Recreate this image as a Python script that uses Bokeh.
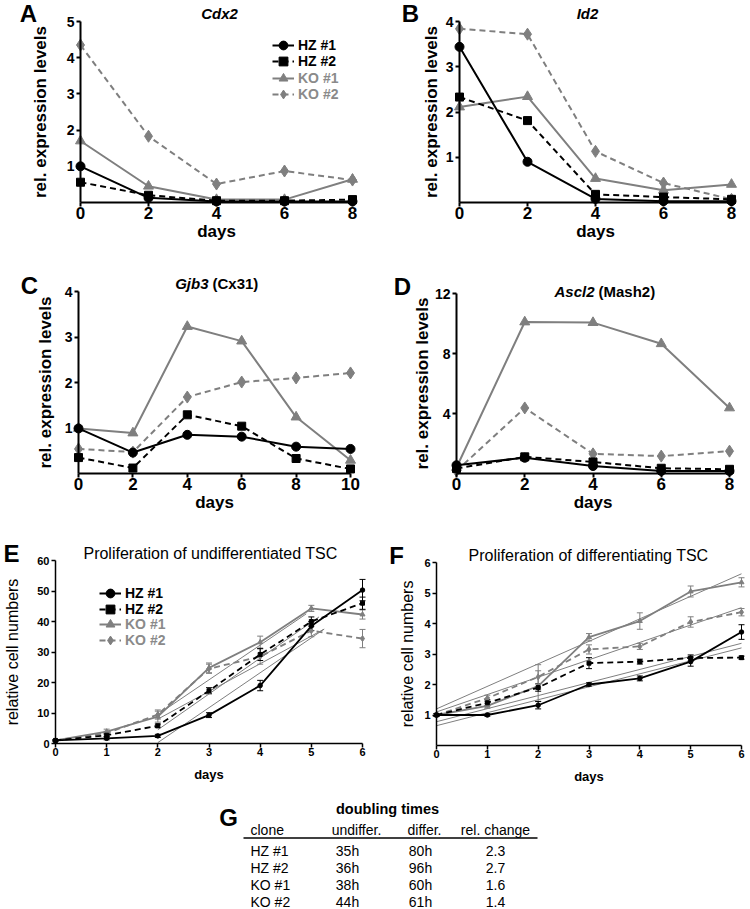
from bokeh.plotting import figure
from bokeh.layouts import row, column
from bokeh.models import (Range1d, FixedTicker, Legend, LegendItem, Label,
                          Whisker, TeeHead, ColumnDataSource)
from bokeh.core.properties import value
from bokeh.embed import file_html
from bokeh.resources import INLINE

FONT = "Liberation Sans"
BLACK = "#000000"
GRAY = "#7f7f7f"
GRAY_TXT = "#8a8a8a"

clones = ["HZ #1", "HZ #2", "KO #1", "KO #2"]

# ---------------- expression data (A-D) ----------------
cdx2_days = [0, 2, 4, 6, 8]
cdx2_hz1 = [1.00, 0.13, 0.03, 0.03, 0.03]
cdx2_hz2 = [0.56, 0.20, 0.05, 0.05, 0.08]
cdx2_ko1 = [1.70, 0.45, 0.08, 0.08, 0.64]
cdx2_ko2 = [4.35, 1.83, 0.51, 0.87, 0.62]

id2_days = [0, 2, 4, 6, 8]
id2_hz1 = [3.44, 0.90, 0.08, 0.03, 0.03]
id2_hz2 = [2.33, 1.81, 0.18, 0.12, 0.07]
id2_ko1 = [2.11, 2.34, 0.53, 0.27, 0.40]
id2_ko2 = [3.84, 3.72, 1.13, 0.43, 0.07]

gjb3_days = [0, 2, 4, 6, 8, 10]
gjb3_hz1 = [0.99, 0.46, 0.85, 0.81, 0.59, 0.54]
gjb3_hz2 = [0.35, 0.12, 1.29, 1.04, 0.33, 0.10]
gjb3_ko1 = [0.99, 0.89, 3.23, 2.91, 1.24, 0.29]
gjb3_ko2 = [0.54, 0.47, 1.68, 2.01, 2.10, 2.21]

ascl2_days = [0, 2, 4, 6, 8]
ascl2_hz1 = [0.55, 1.05, 0.50, 0.17, 0.17]
ascl2_hz2 = [0.33, 1.11, 0.77, 0.35, 0.28]
ascl2_ko1 = [0.40, 10.10, 10.06, 8.65, 4.37]
ascl2_ko2 = [0.17, 4.37, 1.31, 1.16, 1.49]

# ---------------- proliferation data (E, F) ----------------
prolif_days = [0, 1, 2, 3, 4, 5, 6]
undiff_hz1 = [1.0, 1.7, 2.5, 9.3, 19.0, 38.5, 50.3]
undiff_hz1_err = [0.2, 0.5, 0.5, 0.8, 1.7, 1.5, 3.5]
undiff_hz2 = [1.0, 2.7, 5.8, 17.3, 29.2, 40.0, 46.0]
undiff_hz2_err = [0.2, 0.5, 0.6, 1.0, 2.0, 1.5, 2.0]
undiff_ko1 = [1.0, 3.9, 8.8, 24.8, 33.2, 44.3, 42.3]
undiff_ko1_err = [0.2, 0.8, 1.8, 1.6, 2.0, 1.0, 1.5]
undiff_ko2 = [1.0, 3.4, 9.5, 24.5, 28.5, 37.0, 34.4]
undiff_ko2_err = [0.2, 0.6, 1.5, 1.5, 2.5, 2.0, 3.0]
undiff_fit_x0 = [2.0, 2.0, 2.0, 2.0]
undiff_fit_y0 = [0.3, 4.5, 8.0, 9.5]
undiff_fit_x1 = [5.25, 5.15, 5.25, 4.9]
undiff_fit_y1 = [37.5, 41.5, 37.5, 42.5]

diff_hz1 = [1.0, 1.0, 1.32, 2.0, 2.2, 2.75, 3.72]
diff_hz1_err = [0.04, 0.04, 0.12, 0.06, 0.08, 0.15, 0.24]
diff_hz2 = [1.0, 1.4, 1.9, 2.7, 2.75, 2.87, 2.88]
diff_hz2_err = [0.04, 0.1, 0.12, 0.18, 0.08, 0.1, 0.05]
diff_ko1 = [1.0, 1.3, 1.95, 3.55, 4.08, 5.05, 5.35]
diff_ko1_err = [0.04, 0.08, 0.5, 0.12, 0.27, 0.18, 0.15]
diff_ko2 = [1.0, 1.55, 2.25, 3.15, 3.25, 4.05, 4.37]
diff_ko2_err = [0.04, 0.1, 0.4, 0.15, 0.1, 0.17, 0.12]
diff_fit_x0 = [0, 0, 0, 0]
diff_fit_y0 = [1.2, 1.1, 0.78, 0.65]
diff_fit_x1 = [6, 6, 6, 6]
diff_fit_y1 = [5.63, 4.52, 3.35, 3.2]

# ---------------- doubling time table (G) ----------------
table_headers = ["clone", "undiffer.", "differ.", "rel. change"]
table_clone = ["HZ #1", "HZ #2", "KO #1", "KO #2"]
table_undiff = ["35h", "36h", "38h", "44h"]
table_diff = ["80h", "96h", "60h", "61h"]
table_rel = ["2.3", "2.7", "1.6", "1.4"]

STYLE = {
    "HZ #1": dict(color=BLACK, dash="solid", marker="circle", size=9),
    "HZ #2": dict(color=BLACK, dash="6 4", marker="square", size=8),
    "KO #1": dict(color=GRAY, dash="solid", marker="triangle", size=10),
    "KO #2": dict(color=GRAY, dash="6 4", marker="diamond", size=12),
}
LEGEND_TXT = {"HZ #1": BLACK, "HZ #2": BLACK, "KO #1": GRAY_TXT, "KO #2": GRAY_TXT}


def make_panel(fig_left, fig_top, fig_w, fig_h, ax, xmax, ymax):
    """Frame covers the whole figure; axes are fixed at data 0."""
    x0, x1, yt, yb = ax
    ux = xmax / (x1 - x0)
    uy = ymax / (yb - yt)
    X = lambda px: (px - x0) * ux
    Y = lambda py: (yb - py) * uy
    p = figure(width=fig_w, height=fig_h,
               x_range=Range1d(X(fig_left), X(fig_left + fig_w)),
               y_range=Range1d(Y(fig_top + fig_h), Y(fig_top)),
               min_border=0, min_border_left=0, min_border_right=0,
               min_border_top=0, min_border_bottom=0,
               output_backend="svg", toolbar_location=None, tools="")
    p.outline_line_color = None
    p.grid.visible = False
    geo = dict(X=X, Y=Y, left=fig_left, bottom=fig_top + fig_h)
    return p, geo


def style_axes(p, xmax, ymax, xticks, yticks, ylabel, xlab_size, xtick_size,
               ytick_size, ylab_size, ylab_style, lw, ylab_standoff, xlab_standoff):
    for a in (p.xaxis[0], p.yaxis[0]):
        a.fixed_location = 0
        a.axis_line_width = lw
        a.major_tick_line_width = lw
        a.major_tick_out = 4
        a.major_tick_in = 0
        a.minor_tick_out = 0
        a.minor_tick_in = 0
        a.major_label_text_font = FONT
        a.major_label_text_font_style = "bold"
        a.axis_label_text_font = FONT
        a.major_label_text_color = BLACK
        a.axis_label_text_color = BLACK
    p.xaxis.bounds = (0, xmax)
    p.yaxis.bounds = (0, ymax)
    p.xaxis.ticker = FixedTicker(ticks=xticks)
    p.yaxis.ticker = FixedTicker(ticks=yticks)
    p.xaxis.axis_label = "days"
    p.xaxis.axis_label_text_font_style = "bold"
    p.xaxis.axis_label_text_font_size = xlab_size
    p.xaxis.major_label_text_font_size = xtick_size
    p.xaxis.major_label_standoff = 0
    p.xaxis.axis_label_standoff = xlab_standoff
    p.yaxis.axis_label = ylabel
    p.yaxis.axis_label_text_font_style = ylab_style
    p.yaxis.axis_label_text_font_size = ylab_size
    p.yaxis.major_label_text_font_size = ytick_size
    p.yaxis.major_label_standoff = 2
    p.yaxis.axis_label_standoff = ylab_standoff


def add_label(p, x, y, text, size, style="bold", align="center", color=BLACK):
    p.add_layout(Label(x=x, y=y, text=text, text_font=FONT, text_font_size=size,
                       text_font_style=style, text_align=align,
                       text_baseline="middle", text_color=color))


def draw_expr(p, days, data, lw=2):
    for name in ["KO #2", "KO #1", "HZ #2", "HZ #1"]:
        st = STYLE[name]
        p.line(days, data[name], line_color=st["color"], line_width=lw,
               line_dash=st["dash"])
        p.scatter(days, data[name], marker=st["marker"], size=st["size"],
                  fill_color=st["color"], line_color=st["color"])


def add_legends(p, geo, glyph_left, row_centers, fsize, lw=2):
    """One single-item legend per clone, so key markers can be large while rows stay tight."""
    nan = float("nan")
    for n, cy in zip(clones, row_centers):
        st = STYLE[n]
        l = p.line([nan], [nan], line_color=st["color"], line_width=lw,
                   line_dash=st["dash"])
        s = p.scatter([nan], [nan], marker=st["marker"], size=st["size"],
                      fill_color=st["color"], line_color=st["color"])
        gh = 24
        lg = Legend(items=[LegendItem(label=value(n), renderers=[l, s])],
                    location=(glyph_left - geo["left"], geo["bottom"] - (cy + gh / 2)),
                    label_text_font=FONT, label_text_font_style="bold",
                    label_text_font_size=fsize, label_text_color=LEGEND_TXT[n],
                    glyph_width=22, glyph_height=gh, label_height=gh,
                    label_standoff=4, spacing=0, padding=0, margin=0,
                    border_line_color=None, background_fill_alpha=0)
        p.add_layout(lg)


def expr_panel(fig_left, fig_top, fig_w, fig_h, ax, days, data, xmax, ymax,
               yticks, ylab_standoff):
    p, geo = make_panel(fig_left, fig_top, fig_w, fig_h, ax, xmax, ymax)
    style_axes(p, xmax, ymax, days, yticks, "rel. expression levels", "17px", "17px",
               "14px", "17px", "bold", 2, ylab_standoff, 0)
    draw_expr(p, days, data)
    return p, geo


# ---------------- Row 1 ----------------
pA, gA = expr_panel(0, 0, 375, 255, (80, 352, 21, 202),
                    cdx2_days, {"HZ #1": cdx2_hz1, "HZ #2": cdx2_hz2,
                                "KO #1": cdx2_ko1, "KO #2": cdx2_ko2},
                    8, 5, [1, 2, 3, 4, 5], 14)
add_legends(pA, gA, 272, [45, 61, 78, 94], "14px")
add_label(pA, gA["X"](28), gA["Y"](13), "A", "24px")
add_label(pA, gA["X"](219), gA["Y"](13), "Cdx2", "15px", "bold italic")

pB, gB = expr_panel(375, 0, 375, 255, (459, 731, 21, 202),
                    id2_days, {"HZ #1": id2_hz1, "HZ #2": id2_hz2,
                               "KO #1": id2_ko1, "KO #2": id2_ko2},
                    8, 4, [1, 2, 3, 4], 2)
add_label(pB, gB["X"](410), gB["Y"](13), "B", "24px")
add_label(pB, gB["X"](587), gB["Y"](13), "Id2", "15px", "bold italic")

# ---------------- Row 2 ----------------
pC, gC = expr_panel(0, 255, 375, 273, (78, 350, 291, 473),
                    gjb3_days, {"HZ #1": gjb3_hz1, "HZ #2": gjb3_hz2,
                                "KO #1": gjb3_ko1, "KO #2": gjb3_ko2},
                    10, 4, [1, 2, 3, 4], 7)
add_label(pC, gC["X"](29), gC["Y"](285), "C", "24px")
add_label(pC, gC["X"](208), gC["Y"](283), "Gjb3", "15px", "bold italic", "right")
add_label(pC, gC["X"](212), gC["Y"](283), "(Cx31)", "15px", "bold", "left")

pD, gD = expr_panel(375, 255, 375, 273, (456, 729, 293, 473),
                    ascl2_days, {"HZ #1": ascl2_hz1, "HZ #2": ascl2_hz2,
                                 "KO #1": ascl2_ko1, "KO #2": ascl2_ko2},
                    8, 12, [4, 8, 12], 0)
add_label(pD, gD["X"](402), gD["Y"](286), "D", "24px")
add_label(pD, gD["X"](594), gD["Y"](291), "Ascl2", "15px", "bold italic", "right")
add_label(pD, gD["X"](598), gD["Y"](291), "(Mash2)", "15px", "bold", "left")


# ---------------- Row 3 ----------------
def prolif_panel(fig_left, fig_w, ax, data, errs, fits, ymax, yticks, title,
                 tx, ty, ylab_standoff):
    p, geo = make_panel(fig_left, 528, fig_w, 262, ax, 6, ymax)
    style_axes(p, 6, ymax, prolif_days, yticks, "relative cell numbers", "13px",
               "11px", "11px", "16px", "normal", 1.5, ylab_standoff, 8)
    x0, y0, x1, y1 = fits
    p.segment(x0=x0, y0=y0, x1=x1, y1=y1, line_color=GRAY, line_width=1)
    for name in ["KO #2", "KO #1", "HZ #2", "HZ #1"]:
        st = STYLE[name]
        y = data[name]
        e = errs[name]
        src = ColumnDataSource(dict(x=prolif_days,
                                    lo=[a - b for a, b in zip(y, e)],
                                    hi=[a + b for a, b in zip(y, e)]))
        p.add_layout(Whisker(source=src, base="x", lower="lo", upper="hi",
                             line_color=st["color"], line_width=1,
                             upper_head=TeeHead(size=6, line_color=st["color"], line_width=1),
                             lower_head=TeeHead(size=6, line_color=st["color"], line_width=1)))
        p.line(prolif_days, y, line_color=st["color"], line_width=1.8,
               line_dash=st["dash"])
        p.scatter(prolif_days, y, marker=st["marker"], size=st["size"] * 0.5,
                  fill_color=st["color"], line_color=st["color"])
    add_label(p, geo["X"](tx), geo["Y"](ty), title, "16px", "normal")
    return p, geo


pE, gE = prolif_panel(0, 375, (55, 362, 560, 743),
                      {"HZ #1": undiff_hz1, "HZ #2": undiff_hz2,
                       "KO #1": undiff_ko1, "KO #2": undiff_ko2},
                      {"HZ #1": undiff_hz1_err, "HZ #2": undiff_hz2_err,
                       "KO #1": undiff_ko1_err, "KO #2": undiff_ko2_err},
                      (undiff_fit_x0, undiff_fit_y0, undiff_fit_x1, undiff_fit_y1),
                      60, [0, 10, 20, 30, 40, 50, 60],
                      "Proliferation of undifferentiated TSC", 210, 553, 13)
add_label(pE, gE["X"](11), gE["Y"](553), "E", "24px")
add_legends(pE, gE, 99, [593, 609, 624, 640], "14px")

pF, gF = prolif_panel(375, 375, (436, 741, 562, 745),
                      {"HZ #1": diff_hz1, "HZ #2": diff_hz2,
                       "KO #1": diff_ko1, "KO #2": diff_ko2},
                      {"HZ #1": diff_hz1_err, "HZ #2": diff_hz2_err,
                       "KO #1": diff_ko1_err, "KO #2": diff_ko2_err},
                      (diff_fit_x0, diff_fit_y0, diff_fit_x1, diff_fit_y1),
                      6, [1, 2, 3, 4, 5, 6],
                      "Proliferation of differentiating TSC", 588, 555, 5)
add_label(pF, gF["X"](396), gF["Y"](555), "F", "24px")

# ---------------- Table G ----------------
pG = figure(width=750, height=118, x_range=Range1d(0, 750), y_range=Range1d(908, 790),
            x_axis_location=None, y_axis_location=None, min_border=0,
            output_backend="svg", toolbar_location=None, tools="")
pG.outline_line_color = None
pG.grid.visible = False
col_x = [250, 347, 420, 495]
col_align = ["left", "center", "center", "center"]
head_x = [250, 356, 424, 495]
row_y = [850 + 17 * i for i in range(len(table_clone))]
common = dict(text_font=value(FONT), text_font_size="14px", text_baseline="middle",
              text_color=BLACK)
pG.text(x=[228], y=[817], text=["G"], text_font=value(FONT), text_font_size="24px",
        text_font_style="bold", text_align="center", text_baseline="middle")
pG.text(x=[387], y=[808], text=["doubling times"], text_font=value(FONT),
        text_font_size="14.5px", text_font_style="bold", text_align="center",
        text_baseline="middle")
for hx, h, al in zip(head_x, table_headers, col_align):
    pG.text(x=[hx], y=[829], text=[h], text_align=al, **common)
pG.segment(x0=[243], y0=[837.5], x1=[537], y1=[837.5], line_color=BLACK, line_width=1.5)
for cx, vals, al in zip(col_x, [table_clone, table_undiff, table_diff, table_rel],
                        col_align):
    pG.text(x=[cx] * len(vals), y=row_y, text=vals, text_align=al, **common)

layout = column(row(pA, pB), row(pC, pD), row(pE, pF), pG)
open("out.html", "w").write(file_html(layout, INLINE))
